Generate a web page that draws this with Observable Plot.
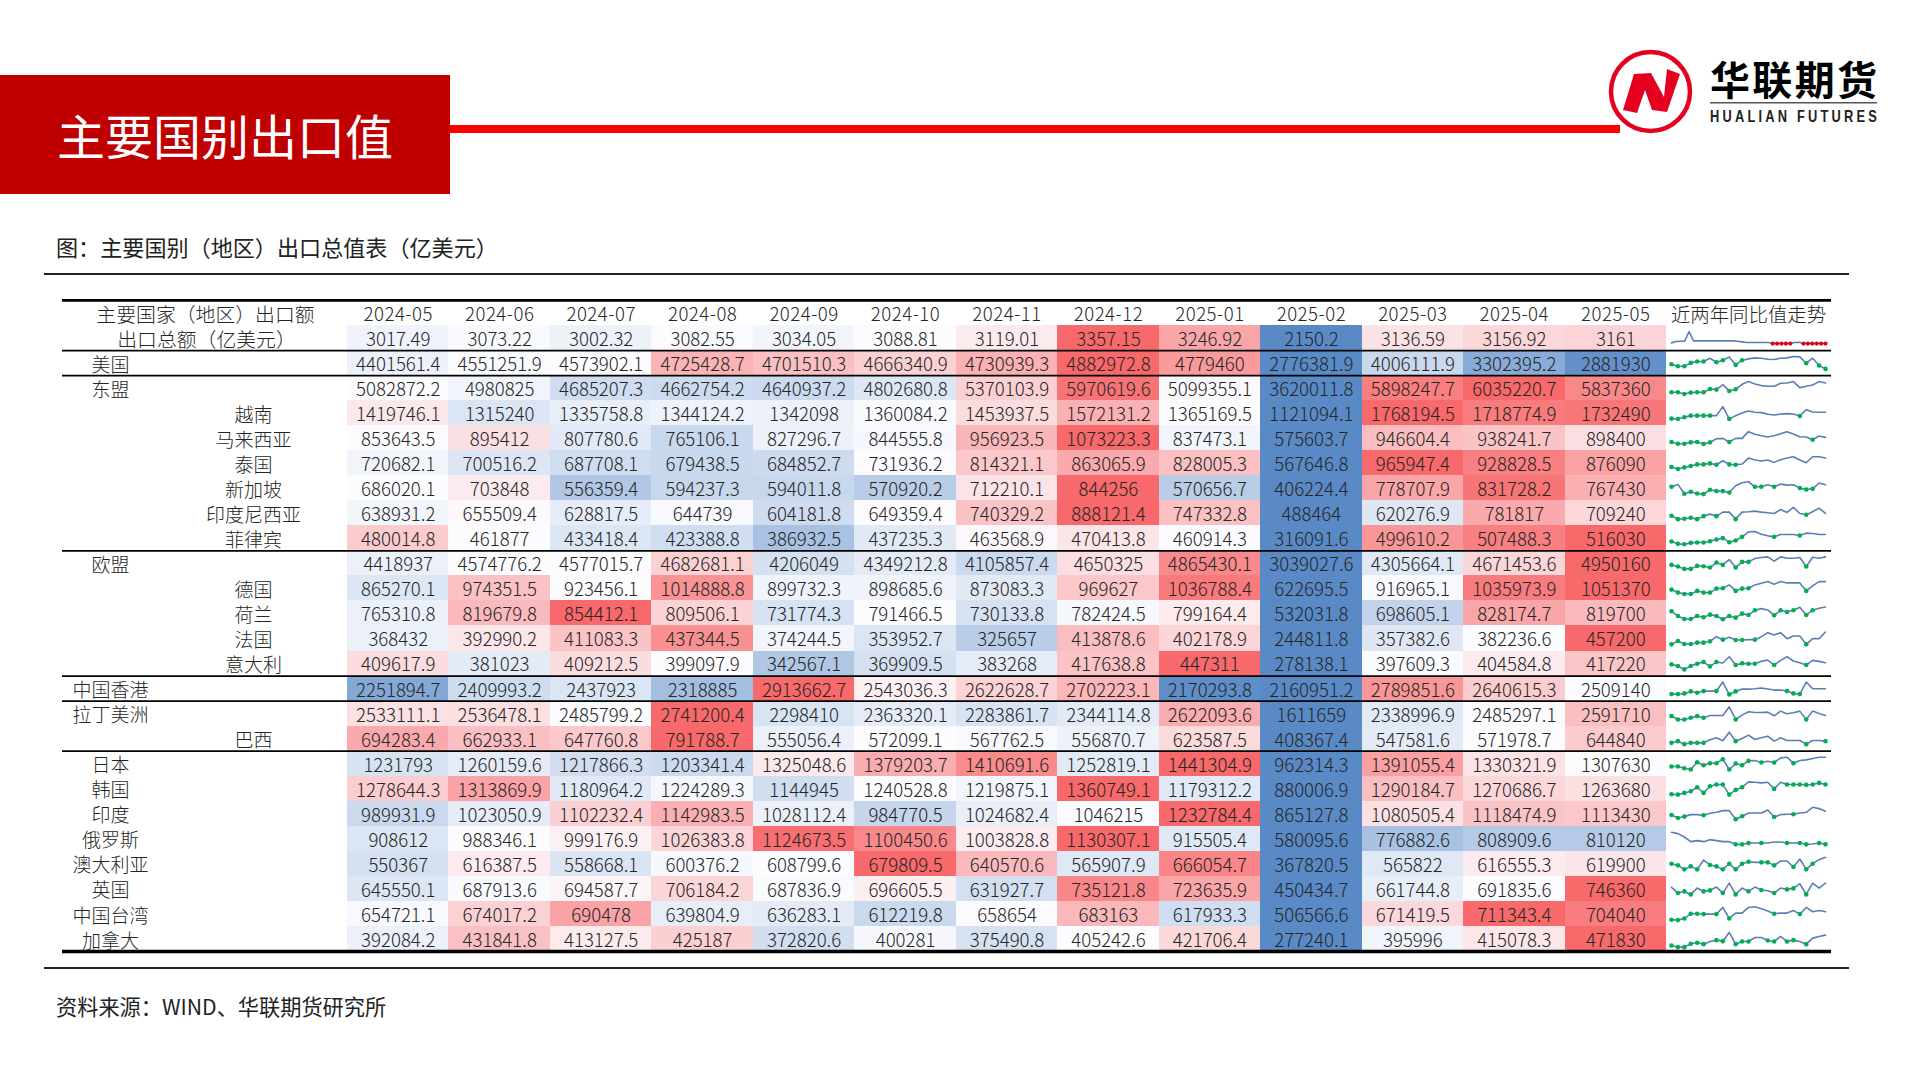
<!DOCTYPE html>
<html lang="zh-CN">
<head>
<meta charset="utf-8">
<script src="https://cdn.jsdelivr.net/npm/d3@7"></script>
<script src="https://cdn.jsdelivr.net/npm/@observablehq/plot@0.6"></script>
<style>
html,body{margin:0;padding:0;background:#fff;width:1920px;height:1080px;overflow:hidden}
#page{position:relative;width:1920px;height:1080px;font-family:"Noto Sans CJK SC","Noto Sans",sans-serif}
#page>svg{position:absolute;overflow:visible}
.hdr text{letter-spacing:.5px}
</style>
</head>
<body>
<div id="page">
<svg style="left:0;top:0" width="1920" height="1080" viewBox="0 0 1920 1080">
  <rect x="0" y="75" width="450" height="119" fill="#C00000"/>
  <rect x="450" y="125" width="1170" height="8" fill="#FF0000"/>
  <text x="57" y="155" font-size="48" fill="#fff">主要国别出口值</text>
  <circle cx="1650.5" cy="91.5" r="39.5" fill="#fff" stroke="#E60020" stroke-width="4.5"/>
  <polygon points="1623,110 1634,74 1651,73 1664,97 1667,69 1680,74 1667,112 1652,110 1645,90 1637,113" fill="#E60020"/>
  <text x="1710" y="95" font-size="40" font-weight="700" fill="#000" textLength="167" lengthAdjust="spacing">华联期货</text>
  <rect x="1710" y="102" width="167" height="1.5" fill="#555"/>
  <text transform="translate(1710,122) scale(0.78,1)" font-size="16.5" font-weight="700" fill="#222" font-family="Liberation Sans" textLength="214" lengthAdjust="spacing">HUALIAN FUTURES</text>
  <text x="56" y="256" font-size="22.1" fill="#222">图：主要国别（地区）出口总值表（亿美元）</text>
  <rect x="44" y="273" width="1805" height="2" fill="#222"/>
  <rect x="44" y="967" width="1805" height="2" fill="#222"/>
  <text x="56" y="1015" font-size="21.2" fill="#222">资料来源：WIND、华联期货研究所</text>
</svg>
</div>
<script>
const months = ["2024-05","2024-06","2024-07","2024-08","2024-09","2024-10","2024-11","2024-12","2025-01","2025-02","2025-03","2025-04","2025-05"];
const headerLabel = "主要国家（地区）出口额";
const trendLabel = "近两年同比值走势";
const totalLabel = "出口总额（亿美元）";
const rowNames = [totalLabel,"美国","东盟","越南","马来西亚","泰国","新加坡","印度尼西亚","菲律宾","欧盟","德国","荷兰","法国","意大利","中国香港","拉丁美洲","巴西","日本","韩国","印度","俄罗斯","澳大利亚","英国","中国台湾","加拿大"];
const subRows = ["越南","马来西亚","泰国","新加坡","印度尼西亚","菲律宾","德国","荷兰","法国","意大利","巴西"];
const groupEnds = [totalLabel,"美国","菲律宾","意大利","中国香港","巴西"];
const tableValues = [
[3017.49,3073.22,3002.32,3082.55,3034.05,3088.81,3119.01,3357.15,3246.92,2150.2,3136.59,3156.92,3161],
[4401561.4,4551251.9,4573902.1,4725428.7,4701510.3,4666340.9,4730939.3,4882972.8,4779460,2776381.9,4006111.9,3302395.2,2881930],
[5082872.2,4980825,4685207.3,4662754.2,4640937.2,4802680.8,5370103.9,5970619.6,5099355.1,3620011.8,5898247.7,6035220.7,5837360],
[1419746.1,1315240,1335758.8,1344124.2,1342098,1360084.2,1453937.5,1572131.2,1365169.5,1121094.1,1768194.5,1718774.9,1732490],
[853643.5,895412,807780.6,765106.1,827296.7,844555.8,956923.5,1073223.3,837473.1,575603.7,946604.4,938241.7,898400],
[720682.1,700516.2,687708.1,679438.5,684852.7,731936.2,814321.1,863065.9,828005.3,567646.8,965947.4,928828.5,876090],
[686020.1,703848,556359.4,594237.3,594011.8,570920.2,712210.1,844256,570656.7,406224.4,778707.9,831728.2,767430],
[638931.2,655509.4,628817.5,644739,604181.8,649359.4,740329.2,888121.4,747332.8,488464,620276.9,781817,709240],
[480014.8,461877,433418.4,423388.8,386932.5,437235.3,463568.9,470413.8,460914.3,316091.6,499610.2,507488.3,516030],
[4418937,4574776.2,4577015.7,4682681.1,4206049,4349212.8,4105857.4,4650325,4865430.1,3039027.6,4305664.1,4671453.6,4950160],
[865270.1,974351.5,923456.1,1014888.8,899732.3,898685.6,873083.3,969627,1036788.4,622695.5,916965.1,1035973.9,1051370],
[765310.8,819679.8,854412.1,809506.1,731774.3,791466.5,730133.8,782424.5,799164.4,532031.8,698605.1,828174.7,819700],
[368432,392990.2,411083.3,437344.5,374244.5,353952.7,325657,413878.6,402178.9,244811.8,357382.6,382236.6,457200],
[409617.9,381023,409212.5,399097.9,342567.1,369909.5,383268,417638.8,447311,278138.1,397609.3,404584.8,417220],
[2251894.7,2409993.2,2437923,2318885,2913662.7,2543036.3,2622628.7,2702223.1,2170293.8,2160951.2,2789851.6,2640615.3,2509140],
[2533111.1,2536478.1,2485799.2,2741200.4,2298410,2363320.1,2283861.7,2344114.8,2622093.6,1611659,2338996.9,2485297.1,2591710],
[694283.4,662933.1,647760.8,791788.7,555056.4,572099.1,567762.5,556870.7,623587.5,408367.4,547581.6,571978.7,644840],
[1231793,1260159.6,1217866.3,1203341.4,1325048.6,1379203.7,1410691.6,1252819.1,1441304.9,962314.3,1391055.4,1330321.9,1307630],
[1278644.3,1313869.9,1180964.2,1224289.3,1144945,1240528.8,1219875.1,1360749.1,1179312.2,880006.9,1290184.7,1270686.7,1263680],
[989931.9,1023050.9,1102232.4,1142983.5,1028112.4,984770.5,1024682.4,1046215,1232784.4,865127.8,1080505.4,1118474.9,1113430],
[908612,988346.1,999176.9,1026383.8,1124673.5,1100450.6,1003828.8,1130307.1,915505.4,580095.6,776882.6,808909.6,810120],
[550367,616387.5,558668.1,600376.2,608799.6,679809.5,640570.6,565907.9,666054.7,367820.5,565822,616555.3,619900],
[645550.1,687913.6,694587.7,706184.2,687836.9,696605.5,631927.7,735121.8,723635.9,450434.7,661744.8,691835.6,746360],
[654721.1,674017.2,690478,639804.9,636283.1,612219.8,658654,683163,617933.3,506566.6,671419.5,711343.4,704040],
[392084.2,431841.8,413127.5,425187,372820.6,400281,375490.8,405242.6,421706.4,277240.1,395996,415078.3,471830]
];
// Trend readings: depth of the line below the top of its row (0 = top, 75 = bottom).
const trendReadings = [
[52,48,47,47,18,46,46,46,46,46,46,46,46,46,46,47,49,51,51,51,51,51,51,54,54,54,54,54,51,50,54,54,54,54,54,54],
[41,47,47,37,33,33,23,35,29,19,43,29,25,22,23,26,27,23,22,18,19,38,23,45,55],
[50,50,55,51,50,50,40,42,27,46,41,26,18,25,30,32,32,23,22,18,36,32,28,18,22],
[54,55,50,45,45,45,45,45,18,55,45,37,31,35,36,41,43,40,39,40,46,27,34,35,35],
[49,54,54,50,49,55,50,39,38,49,38,38,18,26,30,34,30,24,18,25,33,34,42,31,35],
[49,55,50,46,41,41,38,42,30,41,42,40,22,28,31,28,35,27,22,18,28,36,18,18,22],
[33,26,54,48,53,55,42,46,46,50,30,21,18,33,33,27,33,25,28,27,37,41,39,22,27],
[45,55,54,51,55,46,40,46,34,34,55,34,33,31,34,36,38,26,35,20,38,42,33,22,38],
[47,54,55,51,50,50,46,41,37,49,44,33,18,17,25,30,33,26,26,26,29,22,23,26,26],
[42,47,54,54,45,46,50,35,42,26,50,33,33,23,20,18,31,18,22,22,20,47,19,22,18],
[41,50,54,54,45,50,50,38,37,27,45,38,37,27,22,17,25,17,21,21,21,45,30,17,17],
[31,45,54,54,45,49,41,45,55,45,50,38,42,28,23,27,43,28,33,28,19,42,28,22,18],
[55,45,54,54,50,50,46,32,41,34,42,42,41,41,32,20,27,20,38,30,30,55,38,38,18],
[40,45,55,45,38,33,46,33,36,17,42,37,38,38,31,27,42,28,17,30,35,42,28,31,35],
[54,54,52,46,50,45,45,45,18,55,46,39,39,38,36,39,42,42,45,52,54,18,38,38,38],
[45,55,55,50,45,50,43,43,43,17,55,42,32,34,34,33,44,30,38,35,30,55,30,37,43],
[50,45,54,50,50,50,41,35,44,18,45,37,27,40,35,30,45,35,43,43,43,54,43,43,45],
[46,46,51,55,33,42,36,36,24,55,37,42,29,28,34,30,34,20,18,36,28,26,22,18,18],
[54,55,50,45,33,50,30,25,25,55,41,33,17,18,20,18,38,18,25,25,25,26,25,20,25],
[41,50,46,40,40,42,36,33,28,28,54,45,35,35,35,26,47,40,39,39,35,33,18,22,30],
[18,22,32,46,43,46,40,43,46,46,54,54,50,50,50,50,47,47,50,50,50,54,53,50,54],
[37,42,54,45,54,26,41,45,54,37,54,37,31,33,33,33,42,29,29,47,23,54,37,25,18],
[33,50,45,54,35,45,42,32,50,20,54,35,45,32,41,43,50,35,39,36,22,54,20,35,20],
[55,56,51,37,37,38,38,38,18,51,35,35,18,16,22,29,37,35,35,27,38,18,31,27,31],
[57,62,62,52,49,53,45,41,44,18,53,45,45,33,33,42,45,30,45,41,45,53,35,30,26]
];
const redMarks = [[23,24,25,26,27,30,31,32,33,34,35]];
const greenMarks = [
[],
[0,1,2,3,4,5,7,8,10,11,21,23,24],
[0,1,2,3,4,5,6,7,9,10],
[0,1,2,3,4,5,6,9,20],
[0,1,2,3,4,5,6,9,22],
[0,1,2,3,4,5,6,7,9,10],
[0,2,3,4,5,6,7,8,9,13,14,16,20,21,22],
[0,1,2,3,4,5,7,10,21],
[0,1,2,3,4,5,6,7,8,9,10,11,16,20],
[0,1,2,3,4,5,6,7,8,10,11,12,21],
[0,1,2,3,4,5,6,7,8,10,11,12,21],
[0,1,2,3,4,5,6,7,8,9,10,11,12,13,16,17,18,19,21,22],
[0,1,2,3,4,5,6,8,10,11,13,21],
[0,1,2,3,4,5,6,7,10,11,12,13,16,21],
[0,1,2,3,4,5,7,9,10,18,19,20],
[0,1,2,3,4,5,10,21],
[0,1,2,3,4,5,10,21,24],
[0,1,2,3,4,5,6,7,8,9,10,11,12,14,16,19],
[0,1,2,3,4,5,6,7,8,9,10,11,16,18,19,20,21,22,23,24],
[0,1,2,5,10,11,16,19],
[10,11,12,14,18,20,21,23,24],
[0,1,2,3,4,6,7,8,9,10,11,12,14,15,16,19,21,22],
[1,2,3,5,6,8,10,12,14,16,18,19,21],
[0,1,2,3,4,5,7,9,16,20],
[0,1,2,3,4,5,7,8,10,11,12,15,16,18,19,21]
];

const cells = rowNames.flatMap((row, r) => {
  const vals = tableValues[r];
  const lo = d3.min(vals), hi = d3.max(vals), mid = d3.median(vals);
  return vals.map((v, c) => ({row, month: months[c], value: v, score: v < mid ? (v - mid) / (mid - lo) : (v - mid) / (hi - mid)}));
});
const points = rowNames.flatMap((row, r) => trendReadings[r].map((depth, i, a) => ({
  row, t: i / (a.length - 1), depth,
  mark: greenMarks[r].includes(i) ? "green" : (r === 0 && redMarks[0].includes(i) ? "red" : null)
})));

const font = '"Noto Sans CJK SC","Noto Sans",sans-serif';
const textColor = "#262626", fs = 18.6, dyText = 2;
const rowH = 25.04;
const label = {frameAnchor: "left", textAnchor: "middle", fill: textColor, dy: 2.5, fontWeight: 300};

const table = Plot.plot({
  width: 1920, height: 1080,
  marginLeft: 62, marginRight: 89, marginTop: 0, marginBottom: 0,
  style: {background: "transparent", fontFamily: font},
  x: {type: "band", domain: months, range: [347, 1666], padding: 0, round: false, axis: null},
  y: {type: "band", domain: [headerLabel, ...rowNames], range: [299.96, 951], padding: 0, round: false, axis: null},
  color: {type: "linear", domain: [-1, 0, 1], range: ["#5A8AC6", "#FCFCFF", "#F8696B"]},
  marks: [
    Plot.cell(cells, {x: "month", y: "row", fill: "score", shapeRendering: "crispEdges"}),
    Plot.text(cells, {x: "month", y: "row", text: d => String(d.value), fontSize: fs, fill: textColor, dy: dyText, fontWeight: 300}),
    Plot.text(months, {x: d => d, y: () => headerLabel, text: d => d, fontSize: 18.6, fill: textColor, dy: dyText, fontWeight: 300, className: "hdr"}),
    Plot.text([headerLabel], {...label, y: d => d, text: d => d, dx: 143, fontSize: 19.85}),
    Plot.text([trendLabel], {...label, y: () => headerLabel, text: d => d, dx: 1686, fontSize: 19.4}),
    Plot.text([totalLabel], {...label, y: d => d, text: d => d, dx: 144, fontSize: 19.85}),
    Plot.text(rowNames.slice(1).filter(d => !subRows.includes(d)), {...label, y: d => d, text: d => d, dx: 48, fontSize: 19}),
    Plot.text(subRows, {...label, y: d => d, text: d => d, dx: 191, fontSize: 19}),
    Plot.ruleY([headerLabel], {y: d => d, dy: -rowH / 2, stroke: "#000", strokeWidth: 2.8}),
    Plot.ruleY(groupEnds, {y: d => d, dy: rowH / 2, stroke: "#000", strokeWidth: 1.8}),
    Plot.ruleY(["加拿大"], {y: d => d, dy: rowH / 2, stroke: "#000", strokeWidth: 3.5})
  ]
});
table.style.left = "0"; table.style.top = "0";

const trends = Plot.plot({
  width: 165, height: 626,
  marginLeft: 0, marginRight: 0, marginTop: 0, marginBottom: 0,
  style: {background: "transparent"},
  fy: {domain: rowNames, padding: 0, round: false, axis: null},
  x: {domain: [0, 1], range: [5, 159], axis: null},
  y: {domain: [75, 0], axis: null},
  marks: [
    Plot.line(points, {x: "t", y: "depth", fy: "row", z: "row", stroke: "#5B7FB4", strokeWidth: 1.6, curve: "linear"}),
    Plot.dot(points.filter(d => d.mark === "green"), {x: "t", y: "depth", fy: "row", r: 2.3, fill: "#00B050", stroke: "none"}),
    Plot.dot(points.filter(d => d.mark === "red"), {x: "t", y: "depth", fy: "row", r: 2.1, fill: "#E0001B", stroke: "none"})
  ]
});
trends.style.left = "1666px"; trends.style.top = "325px";

const page = document.getElementById("page");
page.appendChild(table);
page.appendChild(trends);
</script>
</body>
</html>
